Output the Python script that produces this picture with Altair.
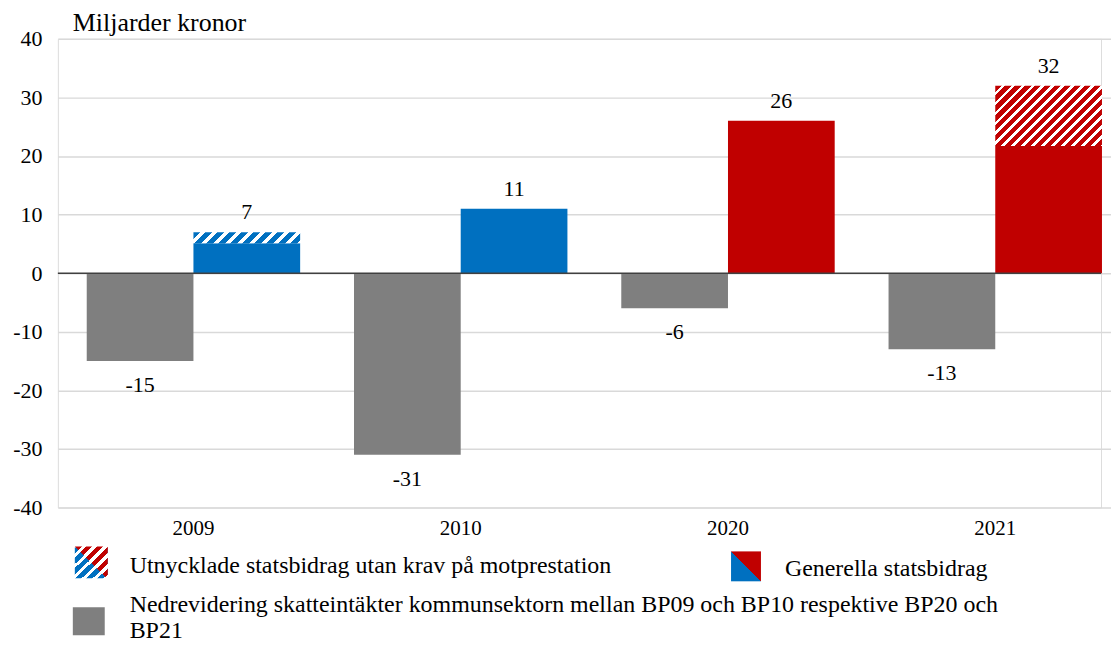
import altair as alt
import pandas as pd

# ---------------- data ----------------
years = ["2009", "2010", "2020", "2021"]
skatt = [-15, -31, -6, -13]                 # Nedrevidering skatteintäkter
generella = [5.1, 11, 26, 21.7]             # Generella statsbidrag (solid part)
utnycklade = [1.9, 0, 0, 10.3]              # Utnycklade statsbidrag (hatched part)
totals = [7, 11, 26, 32]                    # labels above bars
bar_colors = ["#0070C0", "#0070C0", "#C00000", "#C00000"]

legend_labels = [
    "Utnycklade statsbidrag utan krav på motprestation",
    "Generella statsbidrag",
    "Nedrevidering skatteintäkter kommunsektorn mellan BP09 och BP10 respektive BP20 och\nBP21",
]
y_title = "Miljarder kronor"

GRAY = "#7F7F7F"
BLUE = "#0070C0"
RED = "#C00000"
FONT = "Liberation Serif"

# ---------------- layout constants ----------------
W, H = 1046, 470
STEP = 268
P_IN = 54 / 268
P_OUT = 0.108
RANGE = STEP * (4 - P_IN + 2 * P_OUT)
BAR_W = STEP * (1 - P_IN) / 2
PX_PER_UNIT = H / 80


def hatch(color, w, h, period, white_frac=0.38):
    s = (w + h) * w * h / (w * w + h * h)
    x2, y2 = s / h, s / w
    n = (w + h) / period
    stops = []
    k = 0
    while k < n:
        a = k / n
        b = min((k + 1 - white_frac) / n, 1)
        c = min((k + 1) / n, 1)
        stops += [
            alt.GradientStop(color=color, offset=a),
            alt.GradientStop(color=color, offset=b),
            alt.GradientStop(color="white", offset=b),
            alt.GradientStop(color="white", offset=c),
        ]
        k += 1
    return alt.LinearGradient(gradient="linear", stops=stops, x1=0, y1=0, x2=x2, y2=y2)


df_skatt = pd.DataFrame({"year": years, "series": "skatt", "value": skatt,
                         "label": [str(v) for v in skatt]})
df_bid = pd.DataFrame({"year": years, "series": "bidrag", "general": generella,
                       "extra": utnycklade, "total": totals,
                       "label": [str(v) for v in totals]})
df_bid["top"] = df_bid["general"] + df_bid["extra"]

x_enc = alt.X("year:N", sort=years,
              scale=alt.Scale(domain=years, range=[0, RANGE], paddingInner=P_IN, paddingOuter=P_OUT),
              axis=alt.Axis(title=None, domain=False, ticks=False, grid=False, labelAngle=0,
                            labelFont=FONT, labelFontSize=21, labelColor="black", labelPadding=10))
xo_enc = alt.XOffset("series:N", scale=alt.Scale(domain=["skatt", "bidrag"], paddingInner=0, paddingOuter=0))
y_scale = alt.Scale(domain=[-40, 40], nice=False)
y_axis = alt.Axis(title=None, values=list(range(-40, 41, 10)), domain=False, ticks=False,
                  grid=True, gridColor="#D9D9D9", gridWidth=1.5,
                  labelFont=FONT, labelFontSize=22, labelColor="black", labelPadding=16,
                  labelExpr="'' + datum.value")

gray_bars = alt.Chart(df_skatt).mark_bar(color=GRAY).encode(
    x=x_enc, xOffset=xo_enc, y=alt.Y("value:Q", scale=y_scale, axis=y_axis))

solid_bars = alt.Chart(df_bid).mark_bar().encode(
    x=x_enc, xOffset=xo_enc, y=alt.Y("general:Q", scale=y_scale),
    color=alt.Color("year:N", scale=alt.Scale(domain=years, range=bar_colors), legend=None))

hatch_layers = []
for yr, g, e, col in zip(years, generella, utnycklade, bar_colors):
    if e <= 0:
        continue
    h_px = e * PX_PER_UNIT
    period = 12 if h_px < 20 else 10
    sub = df_bid[df_bid["year"] == yr]
    hatch_layers.append(
        alt.Chart(sub).mark_bar(fill=hatch(col, BAR_W, h_px, period), strokeWidth=0).encode(
            x=x_enc, xOffset=xo_enc, y=alt.Y("general:Q", scale=y_scale), y2="top:Q"))

zero_rule = alt.Chart(pd.DataFrame({"z": [0]})).mark_rule(color="#404040", strokeWidth=1.5).encode(
    y=alt.Y("z:Q", scale=y_scale))

pos_labels = alt.Chart(df_bid).mark_text(font=FONT, fontSize=22, color="black", dy=-20,
                                          baseline="middle").encode(
    x=x_enc, xOffset=xo_enc, y=alt.Y("top:Q", scale=y_scale), text="label:N")
neg_labels = alt.Chart(df_skatt).mark_text(font=FONT, fontSize=22, color="black", dy=24,
                                            baseline="middle").encode(
    x=x_enc, xOffset=xo_enc, y=alt.Y("value:Q", scale=y_scale), text="label:N")

one = pd.DataFrame({"k": [0]})
title_txt = alt.Chart(pd.DataFrame({"t": [y_title]})).mark_text(
    font=FONT, fontSize=26, color="black", align="left", baseline="middle").encode(
    x=alt.value(15), y=alt.value(-16), text="t:N")

# legend icons
S = 33
icon1_blue = alt.Chart(one).mark_rect(fill=hatch(BLUE, S, S, 11), strokeWidth=0).encode(
    x=alt.value(17), x2=alt.value(17 + S), y=alt.value(510), y2=alt.value(510 + S - 2))
icon1_red = alt.Chart(one).mark_point(shape="M-1,-1L1,-1L1,1Z", size=S * S, filled=True,
                                      fill=hatch(RED, S, S, 11), opacity=1, strokeWidth=0).encode(
    x=alt.value(17 + S / 2), y=alt.value(510 + (S - 2) / 2))
gen_grad = alt.LinearGradient(gradient="linear", x1=0, y1=1, x2=1, y2=0, stops=[
    alt.GradientStop(color=BLUE, offset=0), alt.GradientStop(color=BLUE, offset=0.5),
    alt.GradientStop(color=RED, offset=0.5), alt.GradientStop(color=RED, offset=1)])
icon2 = alt.Chart(one).mark_rect(fill=gen_grad, strokeWidth=0).encode(
    x=alt.value(675), x2=alt.value(705), y=alt.value(514), y2=alt.value(544))
icon3 = alt.Chart(one).mark_rect(fill=GRAY, strokeWidth=0).encode(
    x=alt.value(15), x2=alt.value(47), y=alt.value(570), y2=alt.value(598))

leg_df = pd.DataFrame({"label": legend_labels})
def leg_text(i, x, y):
    return alt.Chart(leg_df.iloc[[i]]).mark_text(
        font=FONT, fontSize=24, color="black", align="left", baseline="middle",
        lineBreak="\n", lineHeight=26).encode(x=alt.value(x), y=alt.value(y), text="label:N")

chart = alt.layer(
    gray_bars, solid_bars, *hatch_layers, zero_rule, pos_labels, neg_labels, title_txt,
    icon1_blue, icon1_red, icon2, icon3,
    leg_text(0, 72, 529), leg_text(1, 729, 532), leg_text(2, 72, 568),
).properties(
    width=W, height=H,
    autosize=alt.AutoSizeParams(type="none"),
    padding={"left": 50, "top": 30, "right": 10, "bottom": 140},
).configure_view(stroke=None).configure(font=FONT)

chart.save("out.html", embed_options={"renderer": "svg", "actions": False})
